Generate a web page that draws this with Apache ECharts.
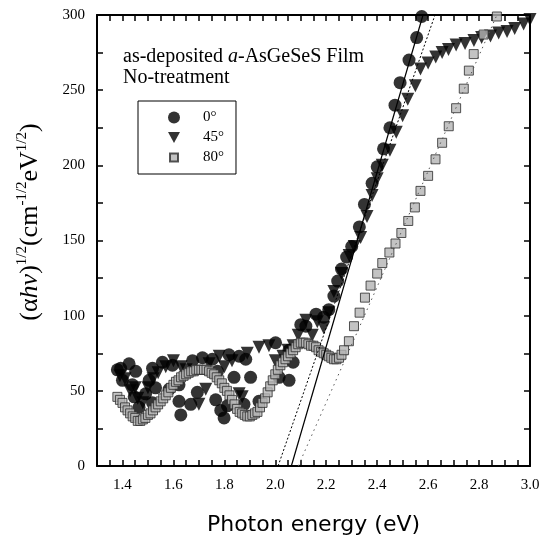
<!DOCTYPE html>
<html>
<head>
<meta charset="utf-8">
<script src="https://cdn.jsdelivr.net/npm/echarts@6/dist/echarts.min.js"></script>
<style>
  html, body { margin: 0; padding: 0; background: #fff; }
  #main { width: 547px; height: 541px; }
</style>
</head>
<body>
<div id="main"></div>
<script>
  // 0° (circles)
  var energy0 = [1.38, 1.393, 1.40, 1.426, 1.439, 1.446, 1.452, 1.465, 1.491, 1.505, 1.518, 1.518, 1.53, 1.557, 1.583, 1.596, 1.622, 1.622, 1.629, 1.668, 1.675, 1.694, 1.714, 1.753, 1.766, 1.773, 1.786, 1.799, 1.812, 1.818, 1.838, 1.858, 1.877, 1.884, 1.903, 1.936, 2.001, 2.015, 2.054, 2.054, 2.07,
    2.10, 2.12, 2.16, 2.19, 2.21, 2.23, 2.245, 2.26, 2.28, 2.30, 2.33, 2.35, 2.38, 2.40, 2.425, 2.45, 2.47, 2.49, 2.525, 2.555, 2.575]
  var alpha0 = [64, 65, 57, 68, 54, 46, 63, 39, 48, 57, 65, 42, 52, 69, 51, 67, 43, 54, 34, 41, 70, 49, 72, 71, 44, 63, 37, 32, 40, 74, 59, 73, 41, 71, 59, 43, 82, 59, 57, 77, 69,
    94, 93, 101, 99, 104, 113, 123, 131, 139, 146, 159, 174, 188, 199, 211, 225, 240, 255, 270, 285, 299]

  // 45° (triangles)
  var energy45 = [1.39, 1.41, 1.43, 1.45, 1.46, 1.48, 1.50, 1.52, 1.54, 1.57, 1.60, 1.63, 1.65, 1.70, 1.727, 1.74, 1.78, 1.80, 1.83, 1.858, 1.87, 1.89, 1.936, 1.975, 2.00, 2.03, 2.05, 2.07, 2.09,
    2.12, 2.145, 2.165, 2.19, 2.21, 2.23, 2.26, 2.29, 2.31, 2.335, 2.36, 2.38, 2.40, 2.42, 2.45, 2.475, 2.50, 2.52, 2.55, 2.57, 2.60, 2.63, 2.655, 2.68, 2.71, 2.745, 2.78, 2.81, 2.845, 2.877, 2.91, 2.94, 2.975, 3.0]
  var alpha45 = [60, 58, 50, 52, 45, 42, 52, 58, 62, 66, 70, 66, 64, 41, 51, 68, 73, 66, 70, 48, 46, 75, 79, 80, 70, 73, 77, 80, 87,
    97, 87, 96, 92, 102, 116, 128, 140, 146, 152, 166, 180, 191, 200, 210, 222, 233, 244, 253, 264, 268, 272, 275, 277, 280, 281, 283, 285, 286, 288, 289, 291, 294, 297]

  // 80° (squares)
  var energy80 = [1.38, 1.39, 1.40, 1.41, 1.42, 1.43, 1.44, 1.45, 1.46, 1.47, 1.48, 1.49, 1.50, 1.51, 1.52, 1.53, 1.54, 1.55, 1.56, 1.57, 1.58, 1.59, 1.60, 1.61, 1.62, 1.63, 1.64, 1.65, 1.66, 1.67, 1.68, 1.69, 1.70, 1.71, 1.72, 1.73, 1.74, 1.75, 1.76, 1.77, 1.78, 1.79,
    1.80, 1.81, 1.82, 1.83, 1.84, 1.85, 1.86, 1.87, 1.88, 1.89, 1.90, 1.91, 1.92, 1.93, 1.94, 1.95, 1.96, 1.97, 1.98, 1.99, 2.00, 2.01, 2.02, 2.03, 2.04, 2.05, 2.06, 2.07, 2.08, 2.09,
    2.10, 2.11, 2.12, 2.13, 2.14, 2.15, 2.16, 2.17, 2.18, 2.19, 2.20, 2.21, 2.22, 2.23, 2.24, 2.25, 2.26, 2.27,
    2.289, 2.309, 2.331, 2.352, 2.374, 2.40, 2.42, 2.448, 2.472, 2.495, 2.522, 2.548, 2.57, 2.60, 2.629, 2.655, 2.681, 2.71, 2.74, 2.76, 2.779, 2.818, 2.87]
  var alpha80 = [46, 44, 42, 39, 37, 35, 33, 32, 30, 30, 31, 32, 34, 35, 37, 39, 41, 43, 45, 47, 49, 52, 54, 56, 57, 59, 60, 61, 62, 63, 63, 64, 64, 64, 64, 64, 63, 62, 61, 59, 57, 55,
    52, 50, 47, 44, 41, 38, 36, 35, 34, 33, 33, 34, 35, 36, 39, 42, 45, 49, 53, 57, 61, 64, 67, 69, 71, 73, 75, 77, 79, 81,
    82, 82, 82, 81, 80, 80, 79, 77, 76, 75, 74, 73, 72, 71, 71, 72, 74, 77,
    83, 93, 102, 112, 120, 128, 135, 142, 148, 155, 163, 172, 183, 193, 204, 215, 226, 238, 251, 263, 274, 287, 299]

  // linear fits (extrapolated to zero)
  var fit0E = [2.063, 2.58]
  var fit45E = [2.011, 2.627]
  var fit80E = [2.09, 2.87]
  var fitV = [0, 300]

  function pairs(xs, ys) {
    let out = []
    for (let i = 0; i < xs.length; i++) out.push([xs[i], ys[i]])
    return out
  }

  let serif = '"Liberation Serif", "DejaVu Serif", serif'

  let myChart = echarts.init(document.getElementById('main'))
  let axisCommon = {
    axisLine: { show: true, onZero: false, lineStyle: { color: '#000', width: 2 } },
    axisTick: { show: true, inside: true, length: 6, lineStyle: { color: '#000', width: 1.5 } },
    splitLine: { show: false }
  }

  myChart.setOption({
    animation: false,
    title: {
      text: '{n|as-deposited }{i|a}{n|-AsGeSeS Film}\n{n|No-treatment}',
      left: 123,
      top: 46,
      padding: 0,
      textStyle: {
        rich: {
          n: { fontFamily: serif, fontSize: 20, fontWeight: 'normal', color: '#000', lineHeight: 21 },
          i: { fontFamily: serif, fontSize: 20, fontWeight: 'normal', fontStyle: 'italic', color: '#000', lineHeight: 21 }
        }
      }
    },
    graphic: [{
      type: 'text',
      x: 30,
      y: 222,
      rotation: Math.PI / 2,
      style: {
        text: '{a|(α}{i|hν}{a|)}{s|1/2}{a|(cm}{s|-1/2}{a|eV}{s|1/2}{a|)}',
        align: 'center',
        verticalAlign: 'middle',
        rich: {
          a: { fontFamily: serif, fontSize: 26, fill: '#000', lineHeight: 30 },
          i: { fontFamily: serif, fontSize: 26, fontStyle: 'italic', fill: '#000', lineHeight: 30 },
          s: { fontFamily: serif, fontSize: 15, fill: '#000', verticalAlign: 'top', lineHeight: 16 }
        }
      }
    }],
    legend: {
      orient: 'vertical',
      left: 138,
      top: 101,
      padding: [9, 12, 9, 29],
      itemGap: 5,
      itemWidth: 12,
      itemHeight: 12,
      borderColor: '#000',
      borderWidth: 1,
      textStyle: { fontFamily: serif, fontSize: 15, color: '#000', padding: [0, 0, 0, 18] },
      data: [
        { name: '0°' },
        { name: '45°', icon: 'path://M0,0L12,0L6,11Z' },
        { name: '80°', icon: 'path://M0,0M12,12M2,2L10,2L10,10L2,10Z' }
      ]
    },
    grid: { left: 97, right: 17, top: 15, bottom: 72 },
    xAxis: [
      Object.assign({
        type: 'value', min: 1.3, max: 3.0, interval: 0.05,
        name: 'Photon energy (eV)',
        nameLocation: 'middle',
        nameGap: 48,
        nameTextStyle: { fontFamily: '"DejaVu Sans", sans-serif', fontSize: 22, color: '#000' },
        axisLabel: {
          color: '#000', fontFamily: serif, fontSize: 15, margin: 12,
          formatter: function (v) {
            return Math.round(v * 100) % 20 === 0 ? v.toFixed(1) : ''
          }
        }
      }, axisCommon),
      Object.assign({
        type: 'value', min: 1.3, max: 3.0, interval: 0.05, position: 'top',
        axisLabel: { show: false }
      }, axisCommon)
    ],
    yAxis: [
      Object.assign({
        type: 'value', min: 0, max: 300, interval: 25,
        axisLabel: {
          color: '#000', fontFamily: serif, fontSize: 15, margin: 12,
          formatter: function (v) {
            return v % 50 === 0 ? String(v) : ''
          }
        }
      }, axisCommon),
      Object.assign({
        type: 'value', min: 0, max: 300, interval: 25, position: 'right',
        axisLabel: { show: false }
      }, axisCommon)
    ],
    series: [
      {
        name: '0°',
        type: 'scatter',
        symbol: 'circle',
        symbolSize: 13,
        itemStyle: { color: '#000' },
        data: pairs(energy0, alpha0)
      },
      {
        name: '45°',
        type: 'scatter',
        symbol: 'triangle',
        symbolRotate: 180,
        symbolSize: 13,
        itemStyle: { color: '#000' },
        data: pairs(energy45, alpha45)
      },
      {
        name: '80°',
        type: 'scatter',
        symbol: 'rect',
        symbolSize: 9,
        itemStyle: { color: '#b4b4b4', borderColor: '#2a2a2a', borderWidth: 1 },
        data: pairs(energy80, alpha80)
      },
      {
        type: 'line',
        showSymbol: false,
        lineStyle: { color: '#000', width: 1.2, type: 'solid' },
        data: pairs(fit0E, fitV)
      },
      {
        type: 'line',
        showSymbol: false,
        lineStyle: { color: '#000', width: 1, type: [2, 2] },
        data: pairs(fit45E, fitV)
      },
      {
        type: 'line',
        showSymbol: false,
        lineStyle: { color: '#555', width: 1, type: [1.5, 4] },
        data: pairs(fit80E, fitV)
      }
    ]
  })
</script>
</body>
</html>
